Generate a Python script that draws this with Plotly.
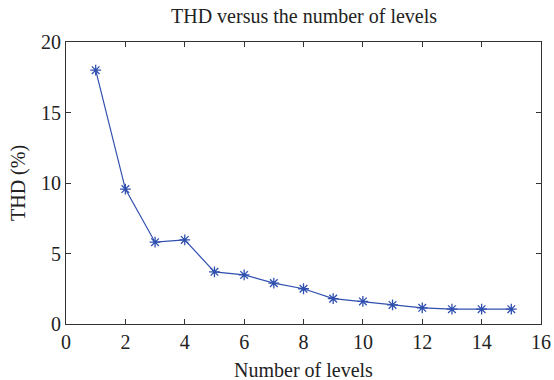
import plotly.graph_objects as go

# 数据
levels = [1, 2, 3, 4, 5, 6, 7, 8, 9, 10, 11, 12, 13, 14, 15]
thd = [18.0, 9.57, 5.8, 5.96, 3.7, 3.48, 2.9, 2.5, 1.8, 1.6, 1.35, 1.15, 1.05, 1.05, 1.05]

fig = go.Figure(go.Scatter(
    x=levels, y=thd, mode="lines+markers",
    line=dict(color="#3050b0", width=1.2),
    marker=dict(symbol="asterisk-open", size=9, color="#3050b0",
                line=dict(color="#3050b0", width=1.3)),
))

txt_font = dict(family="Liberation Serif", size=20, color="#222222")
axis_style = dict(showline=True, mirror="ticks", linecolor="#333333", linewidth=1.2,
                  ticks="inside", ticklen=5, tickcolor="#333333", tickwidth=1,
                  showgrid=False, zeroline=False, automargin=False,
                  tickfont=txt_font)

fig.update_xaxes(range=[0, 16], dtick=2, **axis_style)
fig.update_yaxes(range=[0, 20], dtick=5, **axis_style)

fig.update_layout(
    width=554, height=380,
    margin=dict(l=66, r=13, t=42, b=56),
    paper_bgcolor="white", plot_bgcolor="white",
    showlegend=False,
    annotations=[
        dict(text="THD versus the number of levels", x=0.5, y=1, xref="paper", yref="paper",
             xanchor="center", yanchor="middle", yshift=26, showarrow=False, font=txt_font),
        dict(text="THD (%)", x=0, y=0.5, xref="paper", yref="paper", textangle=-90,
             xanchor="center", yanchor="middle", xshift=-48, showarrow=False, font=txt_font),
        dict(text="Number of levels", x=0.5, y=0, xref="paper", yref="paper",
             xanchor="center", yanchor="middle", yshift=-46, showarrow=False, font=txt_font),
    ],
)

# 去掉页面 body 的默认边距和滚动条，不显示工具栏
fig.write_html("out.html", config={"displayModeBar": False},
               post_script="document.body.style.margin='0';document.body.style.overflow='hidden';")
